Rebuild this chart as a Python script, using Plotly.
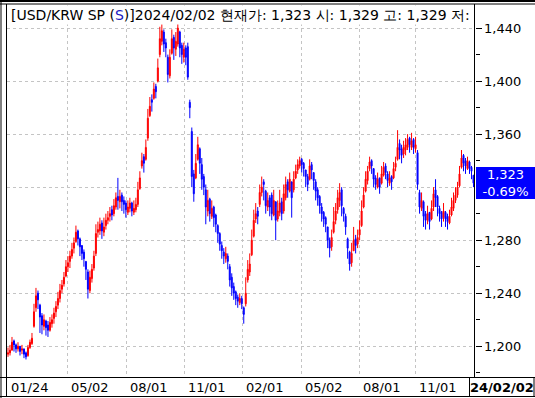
import plotly.graph_objects as go

# ---- data (one bar per ~2 trading days, USD/KRW spot, 2022-01-24 .. 2024-02-02) ----
opens = [
1194,1195,1197,1204,1201,1198,1200,1197,1198,1195,
1193,1199,1202,1215,1229,1240,1231,1223,1215,1219,
1216,1212,1217,1221,1226,1231,1236,1243,1247,1253,
1260,1264,1268,1274,1279,1287,1281,1276,1271,1264,
1256,1242,1251,1259,1270,1286,1287,1293,1286,1291,
1295,1298,1303,1300,1305,1313,1309,1314,1310,1308,
1301,1304,1308,1301,1303,1307,1319,1336,1343,1341,
1357,1374,1386,1387,1396,1400,1420,1430,1437,1429,
1418,1404,1421,1433,1424,1428,1437,1427,1418,1425,
1426,1384,1362,1330,1327,1341,1349,1337,1328,1318,
1302,1311,1298,1305,1299,1291,1285,1276,1271,1266,
1268,1260,1252,1245,1241,1237,1233,1236,1229,1232,
1250,1256,1269,1283,1296,1302,1307,1316,1324,1317,
1305,1312,1314,1299,1309,1296,1301,1309,1302,1312,
1324,1317,1324,1318,1327,1333,1336,1341,1338,1333,
1328,1326,1337,1331,1324,1318,1313,1305,1301,1297,
1290,1280,1275,1286,1295,1303,1310,1318,1304,1298,
1281,1271,1263,1272,1281,1277,1284,1291,1305,1317,
1325,1334,1340,1334,1327,1320,1327,1323,1329,1336,
1330,1323,1328,1327,1335,1341,1353,1349,1345,1348,
1350,1357,1350,1356,1349,1346,1316,1304,1309,1300,
1295,1301,1296,1305,1318,1313,1304,1301,1297,1301,
1298,1293,1299,1304,1310,1314,1321,1335,1344,1340,
1334,1339,1335,1329]
highs = [
1199,1201,1207,1205,1202,1203,1200,1201,1198,1196,
1201,1205,1210,1232,1244,1242,1232,1225,1224,1220,
1219,1222,1224,1229,1234,1241,1247,1250,1256,1265,
1268,1272,1278,1282,1291,1288,1282,1276,1273,1264,
1258,1257,1262,1272,1292,1294,1297,1295,1297,1300,
1302,1305,1306,1311,1316,1327,1318,1316,1313,1310,
1310,1312,1309,1310,1312,1324,1332,1346,1345,1356,
1379,1388,1390,1399,1398,1417,1441,1443,1439,1432,
1420,1424,1439,1435,1437,1444,1438,1429,1429,1427,
1429,1386,1365,1333,1345,1358,1350,1342,1330,1322,
1318,1312,1310,1306,1300,1292,1286,1279,1274,1275,
1270,1262,1255,1248,1242,1239,1240,1238,1230,1252,
1265,1270,1288,1303,1308,1305,1322,1328,1326,1318,
1316,1314,1316,1318,1305,1310,1318,1312,1322,1328,
1326,1331,1322,1332,1337,1341,1343,1342,1339,1333,
1330,1341,1339,1331,1326,1320,1314,1308,1302,1298,
1290,1282,1288,1305,1308,1318,1323,1320,1305,1300,
1282,1272,1278,1290,1284,1288,1295,1310,1320,1332,
1336,1343,1341,1331,1329,1331,1327,1336,1339,1338,
1332,1332,1329,1339,1343,1363,1356,1352,1355,1357,
1360,1358,1361,1357,1358,1348,1318,1316,1310,1302,
1306,1300,1310,1320,1326,1314,1306,1302,1308,1302,
1300,1303,1312,1316,1320,1324,1336,1348,1345,1342,
1343,1340,1336,1329]
lows = [
1192,1193,1198,1196,1195,1196,1193,1194,1191,1190,
1192,1198,1201,1214,1226,1228,1210,1209,1212,1208,
1207,1211,1214,1217,1222,1228,1233,1240,1245,1252,
1256,1259,1266,1270,1278,1276,1268,1265,1260,1250,
1236,1240,1248,1257,1268,1282,1284,1281,1283,1288,
1292,1294,1295,1298,1303,1303,1304,1302,1300,1297,
1299,1301,1298,1299,1301,1305,1318,1334,1331,1340,
1355,1373,1377,1386,1387,1399,1418,1427,1422,1418,
1399,1402,1420,1416,1419,1426,1418,1413,1414,1412,
1401,1372,1320,1309,1326,1340,1330,1318,1314,1292,
1298,1294,1296,1290,1286,1278,1272,1266,1262,1263,
1258,1245,1238,1235,1231,1229,1231,1228,1217,1230,
1248,1253,1268,1282,1293,1292,1305,1313,1310,1300,
1302,1298,1295,1298,1280,1294,1298,1295,1300,1310,
1312,1316,1297,1316,1326,1330,1334,1331,1328,1320,
1317,1325,1326,1318,1310,1306,1300,1294,1290,1286,
1274,1267,1272,1285,1292,1300,1305,1298,1294,1284,
1266,1257,1260,1272,1270,1274,1280,1290,1304,1316,
1322,1332,1330,1320,1318,1319,1315,1322,1328,1326,
1320,1321,1318,1326,1332,1340,1341,1338,1342,1344,
1348,1346,1348,1345,1346,1318,1300,1302,1290,1288,
1292,1288,1295,1302,1305,1298,1294,1290,1294,1290,
1288,1292,1298,1302,1308,1312,1320,1334,1332,1330,
1333,1330,1326,1320]
closes = [
1195,1197,1203,1201,1198,1200,1196,1198,1194,1192,
1199,1203,1206,1226,1238,1235,1222,1216,1220,1214,
1212,1218,1220,1225,1230,1236,1242,1246,1252,1260,
1263,1268,1273,1278,1286,1281,1275,1270,1266,1258,
1243,1252,1258,1268,1285,1288,1292,1287,1290,1295,
1297,1300,1299,1306,1312,1310,1313,1309,1307,1303,
1305,1308,1302,1304,1307,1318,1327,1340,1338,1350,
1372,1381,1384,1394,1392,1410,1432,1438,1428,1425,
1405,1418,1432,1425,1430,1440,1425,1420,1424,1418,
1403,1380,1328,1315,1338,1352,1338,1326,1320,1305,
1310,1300,1304,1297,1292,1285,1277,1272,1268,1270,
1264,1250,1244,1240,1236,1234,1236,1232,1224,1240,
1258,1262,1280,1295,1300,1298,1316,1320,1322,1306,
1310,1305,1300,1310,1295,1302,1308,1300,1315,1322,
1318,1326,1312,1326,1332,1337,1340,1337,1334,1328,
1322,1336,1333,1325,1317,1312,1306,1300,1296,1292,
1280,1274,1282,1294,1302,1312,1316,1306,1300,1290,
1274,1262,1270,1280,1276,1282,1288,1302,1314,1326,
1332,1339,1336,1326,1322,1326,1320,1330,1335,1331,
1325,1327,1324,1334,1338,1350,1348,1344,1350,1352,
1356,1352,1355,1350,1352,1322,1305,1310,1298,1295,
1300,1294,1304,1315,1312,1305,1300,1296,1302,1296,
1294,1298,1305,1310,1314,1320,1330,1342,1338,1336,
1340,1334,1332,1323]

tick_labels = ["01/24", "05/02", "08/01", "11/01", "02/01", "05/02", "08/01", "11/01"]
tick_bars = [0, 30, 59.5, 88.5, 117.5, 147, 176, 204]   # bar index where each month starts
last_label = "24/02/02"
y_ticks = [1200, 1240, 1280, 1320, 1360, 1400, 1440]
y_hidden = [1320]   # label covered by the current-price box
cur_price = 1323
cur_change = "-0.69%"
title_html = ("[USD/KRW SP (<span style='color:#2020C0'>S</span>)]2024/02/02 "
              "현재가: 1,323 시: 1,329 고: 1,329 저:")

assert len(opens) == len(highs) == len(lows) == len(closes)
xs = list(range(len(closes)))

W, H = 535, 398
def px(x):  # pixel -> paper x
    return x / W
def py(y):  # pixel -> paper y
    return 1 - y / H

fig = go.Figure()
fig.add_trace(go.Candlestick(
    x=xs, open=opens, high=highs, low=lows, close=closes,
    increasing=dict(line=dict(color="#FF0000", width=1), fillcolor="#FF0000"),
    decreasing=dict(line=dict(color="#0000FF", width=1), fillcolor="#0000FF"),
    whiskerwidth=0, hoverinfo="skip", showlegend=False,
))

grid = "#C4C4C4"
fig.update_layout(
    width=W, height=H, margin=dict(l=0, r=0, t=0, b=0),
    paper_bgcolor="white", plot_bgcolor="white",
    font=dict(family="DejaVu Sans", size=13, color="black"),
    xaxis=dict(
        domain=[px(7), px(474.5)], range=[-0.5, len(closes) - 0.5],
        rangeslider=dict(visible=False), tickmode="array",
        tickvals=tick_bars[1:], showticklabels=False, ticks="",
        showgrid=True, gridcolor=grid, griddash="3px,3px", gridwidth=1,
        zeroline=False, showline=False, fixedrange=True,
    ),
    yaxis=dict(
        domain=[py(377.5), py(4.5)], range=[1176.4, 1457.8], side="right",
        tickmode="array", tickvals=y_ticks,
        ticktext=["" if v in y_hidden else f"{v:,}" for v in y_ticks],
        ticks="outside", ticklen=6, tickcolor="black", tickwidth=1,
        minor=dict(tick0=1200, dtick=20, ticks="outside", ticklen=4, tickcolor="black", showgrid=False),
        showgrid=True, gridcolor=grid, griddash="3px,3px", gridwidth=1,
        zeroline=False, showline=False,
        tickfont=dict(family="DejaVu Sans", size=13, color="black"),
    ),
)

shapes = []
def line(x0, y0, x1, y1, w=1, c="black"):
    shapes.append(dict(type="line", xref="paper", yref="paper",
                       x0=px(x0), y0=py(y0), x1=px(x1), y1=py(y1),
                       line=dict(color=c, width=w)))
line(0, 1, W, 1, 2)          # top border
line(0, 4, W, 4, 1)          # second top line
line(1, 0, 1, H, 1)          # outer left
line(6.5, 4, 6.5, 397, 1)    # inner left
line(474.5, 4, 474.5, 377.5, 1)   # right axis
line(0, 377.5, W, 377.5, 1)  # bottom strip top
line(0, 396.5, W, 396.5, 1)  # bottom strip bottom
line(469.5, 377.5, 469.5, 396.5, 1)
line(534, 377.5, 534, 396.5, 1)
fig.update_layout(shapes=shapes)

ann = []
# title
ann.append(dict(xref="paper", yref="paper", x=px(9), y=py(15), xanchor="left", yanchor="middle",
                text=title_html, showarrow=False, bgcolor="white",
                font=dict(family="DejaVu Sans", size=14, color="black")))
# x labels (left aligned at month gridlines)
for lab, b in zip(tick_labels, tick_bars):
    ann.append(dict(xref="x", yref="paper", x=b, y=py(387), xanchor="left", yanchor="middle",
                    xshift=1 if b else 0.5, text=lab, showarrow=False,
                    font=dict(family="DejaVu Sans", size=13, color="black")))
ann.append(dict(xref="paper", yref="paper", x=px(502), y=py(387), xanchor="center", yanchor="middle",
                text="<b>" + last_label + "</b>", showarrow=False,
                font=dict(family="DejaVu Sans", size=13, color="black")))
# current price box
ann.append(dict(xref="paper", yref="y", x=px(475.5), y=cur_price, xanchor="left", yanchor="middle",
                text=f"{cur_price:,}<br>{cur_change}", showarrow=False, align="center",
                width=59, height=32, bgcolor="#0000FF", borderpad=0, borderwidth=0,
                font=dict(family="DejaVu Sans", size=13, color="white")))
fig.update_layout(annotations=ann)

fig.write_html("out.html", config={"displayModeBar": False})
